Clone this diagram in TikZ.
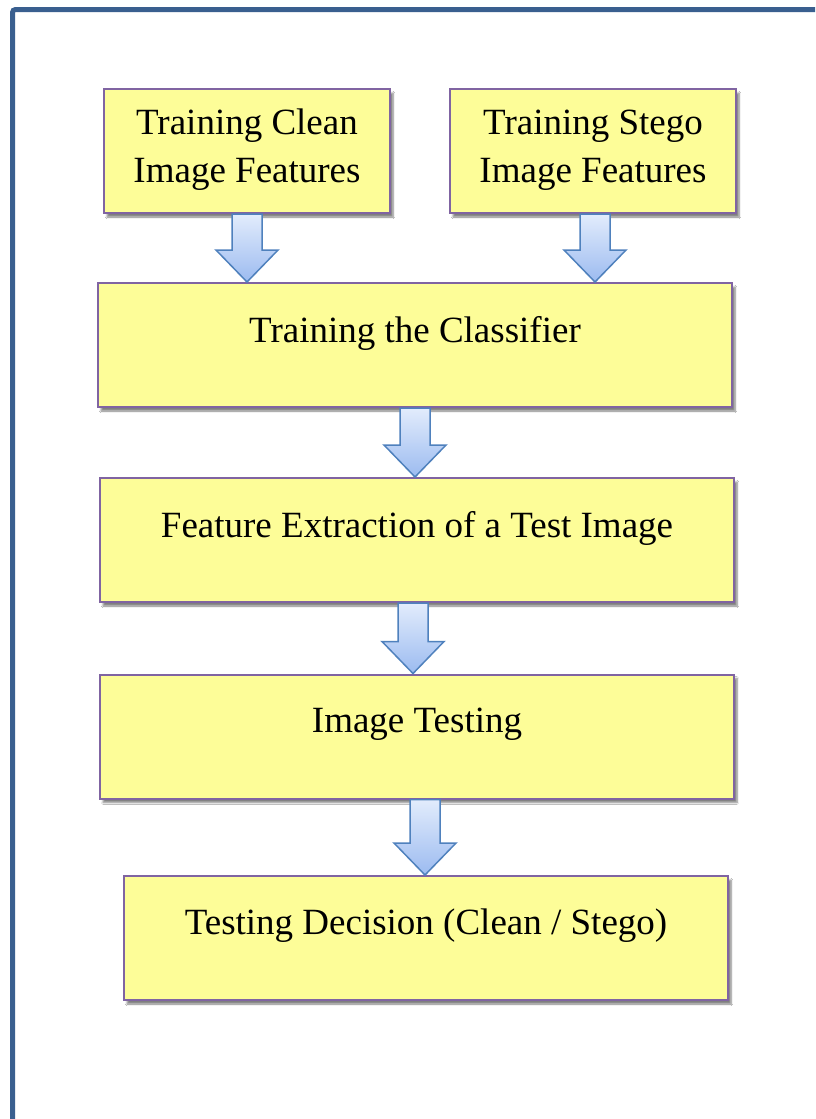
\documentclass[tikz,border=0pt]{standalone}
\usepackage{fontspec}
\setmainfont{Liberation Serif}
\usetikzlibrary{calc,shadows.blur}

\definecolor{frameblue}{HTML}{3A5F8F}
\definecolor{boxfill}{HTML}{FDFD98}
\definecolor{boxedge}{HTML}{8064A2}
\definecolor{arrowedge}{HTML}{4F81BD}
\definecolor{arrowtop}{HTML}{E2ECFC}
\definecolor{arrowbot}{HTML}{9CBBF0}

\tikzset{
  frameline/.style={draw=frameblue, line width=5pt, rounded corners=3pt},
  stagebox/.style={draw=boxedge, line width=2pt, fill=boxfill, rectangle,
    minimum height=124pt, inner sep=0pt,
    blur shadow={shadow xshift=3pt, shadow yshift=-4pt, shadow blur steps=6, shadow opacity=50}},
  stagetext/.style={align=center, inner sep=0pt, font=\fontsize{37}{48}\selectfont},
  blockarrow/.style={draw=arrowedge, line width=1.5pt, line join=miter,
    top color=arrowtop, bottom color=arrowbot},
}

% block arrow from the bottom of one stage down to the top of the next
\newcommand\flowarrow[2]{%
  \path[blockarrow] let \p1=#1, \p2=#2 in
    (\x1-15pt,\y1) -- (\x1+15pt,\y1) -- (\x1+15pt,\y2+32pt) -- (\x1+31pt,\y2+32pt)
    -- (\x1,\y2) -- (\x1-31pt,\y2+32pt) -- (\x1-15pt,\y2+32pt) -- cycle;}

\begin{document}
\begin{tikzpicture}[x=1pt,y=-1pt]
\useasboundingbox (0,0) rectangle (815,1119);
\fill[white] (0,0) rectangle (815,1119);

% outer frame, running off the right and bottom edges
\begin{scope}
  \clip (0,0) rectangle (815,1119);
  \draw[frameline] (12.5,9.5) rectangle (850,1160);
\end{scope}

% stages
\node[stagebox, minimum width=286pt] (b1) at (247,151) {};
\node[stagebox, minimum width=286pt] (b2) at (593,151) {};
\node[stagebox, minimum width=634pt] (b3) at (415,345) {};
\node[stagebox, minimum width=634pt] (b4) at (417,540) {};
\node[stagebox, minimum width=634pt] (b5) at (417,736.5) {};
\node[stagebox, minimum width=604pt] (b6) at (426,938) {};

% labels
\node[stagetext] (t1) at ([yshift=1pt]b1.center) {Training Clean\\Image Features};
\node[stagetext] (t2) at ([yshift=1pt]b2.center) {Training Stego\\Image Features};
\node[stagetext] (t3) at ([yshift=12pt]b3.center) {Training the Classifier};
\node[stagetext] (t4) at ([yshift=12pt]b4.center) {Feature Extraction of a Test Image};
\node[stagetext] (t5) at ([yshift=12pt]b5.center) {Image Testing};
\node[stagetext] (t6) at ([yshift=12pt]b6.center) {Testing Decision (Clean / Stego)};

% connectors
\flowarrow{(b1.south)}{(b3.north)}
\flowarrow{([xshift=2pt]b2.south)}{(b3.north)}
\flowarrow{(b3.south)}{(b4.north)}
\flowarrow{([xshift=-4pt]b4.south)}{(b5.north)}
\flowarrow{([xshift=8pt]b5.south)}{(b6.north)}
\end{tikzpicture}
\end{document}
